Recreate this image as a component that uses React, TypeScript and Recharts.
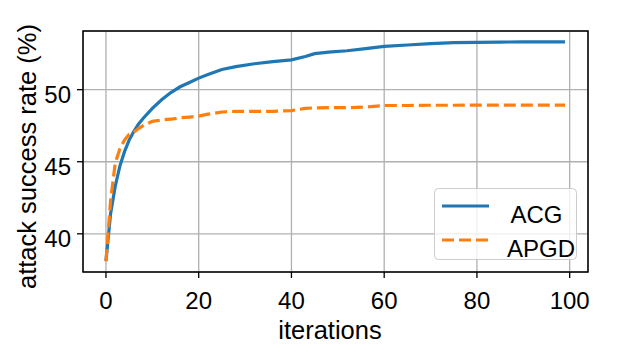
import { useEffect } from 'react';
import {
  LineChart,
  Line,
  XAxis,
  YAxis,
  CartesianGrid,
  Legend,
  ReferenceArea,
} from 'recharts';

// values
const iterations = [0, 1, 2, 3, 4, 5, 6, 7, 8, 10, 12, 14, 16, 18, 20, 22, 25, 28, 32, 36, 40, 43, 45, 48, 52, 56, 60, 65, 70, 75, 80, 85, 90, 95, 99];
const acg = [38.1, 41.4, 43.3, 44.7, 45.7, 46.5, 47.1, 47.6, 48.0, 48.7, 49.3, 49.8, 50.2, 50.5, 50.8, 51.05, 51.4, 51.6, 51.8, 51.95, 52.07, 52.3, 52.5, 52.6, 52.7, 52.85, 53.0, 53.1, 53.2, 53.26, 53.28, 53.3, 53.32, 53.32, 53.32];
const apgd = [38.1, 42.3, 44.9, 45.9, 46.5, 46.9, 47.05, 47.3, 47.5, 47.8, 47.9, 47.95, 48.05, 48.1, 48.16, 48.3, 48.45, 48.5, 48.5, 48.5, 48.55, 48.7, 48.74, 48.75, 48.75, 48.8, 48.9, 48.9, 48.92, 48.92, 48.93, 48.93, 48.93, 48.93, 48.93];
const xTicks = [0, 20, 40, 60, 80, 100];
const yTicks = [40, 45, 50];

const data = iterations.map((it, i) => ({ it, acg: acg[i], apgd: apgd[i] }));

const X_DOMAIN = [-4.95, 103.95];
const Y_DOMAIN = [37.35, 54.07];
const FONT = '"Liberation Sans", Arial, sans-serif';

const seriesStyle: Record<string, { color: string; dash?: string; textX: number; y: number }> = {
  ACG: { color: '#1f77b4', textX: 76.5, y: 18 },
  APGD: { color: '#ff7f0e', dash: '12 5', textX: 73, y: 52 },
};

function LegendBox(props: any) {
  const payload = props.payload || [];
  return (
    <svg width={143} height={72} style={{ display: 'block' }}>
      <rect x={0.5} y={0.5} width={142} height={71} rx={4} fill="#fff" fillOpacity={0.8} stroke="#cccccc" />
      {payload.map((p: any) => {
        const s = seriesStyle[p.value];
        return (
          <g key={p.value}>
            <line x1={8} x2={55} y1={s.y} y2={s.y} stroke={s.color} strokeWidth={3.2} strokeDasharray={s.dash} />
            <text x={s.textX} y={s.y + 16.5} fontSize={24} fontFamily={FONT} fill="#000">
              {p.value}
            </text>
          </g>
        );
      })}
    </svg>
  );
}

export default function App() {
  useEffect(() => {
    document.body.style.margin = '0';
  }, []);

  return (
    <div style={{ position: 'absolute', left: 0, top: 0, background: '#fff' }}>
      <LineChart
        width={623}
        height={362}
        data={data}
        margin={{ top: 31, right: 35, left: 0, bottom: 0 }}
      >
        <CartesianGrid stroke="#b0b0b0" strokeWidth={1.3} />
        <XAxis
          dataKey="it"
          type="number"
          domain={X_DOMAIN}
          ticks={xTicks}
          height={90}
          axisLine={false}
          tickSize={6}
          tickMargin={14}
          tickLine={{ stroke: '#000', strokeWidth: 1.3 }}
          tick={{ fill: '#000', fontSize: 24, fontFamily: FONT }}
          label={{
            content: () => (
              <text x={330} y={339} textAnchor="middle" fontSize={25.5} fontFamily={FONT} fill="#000">
                iterations
              </text>
            ),
          }}
        />
        <YAxis
          type="number"
          domain={Y_DOMAIN}
          ticks={yTicks}
          width={83}
          axisLine={false}
          tickSize={6}
          tickMargin={6}
          tickLine={{ stroke: '#000', strokeWidth: 1.3 }}
          tick={{ fill: '#000', fontSize: 24, fontFamily: FONT, dy: 5 }}
          label={{
            content: () => (
              <text
                x={36}
                y={156.5}
                transform="rotate(-90 36 156.5)"
                textAnchor="middle"
                fontSize={25.5}
                fontFamily={FONT}
                fill="#000"
              >
                attack success rate (%)
              </text>
            ),
          }}
        />
        <Line
          dataKey="acg"
          name="ACG"
          stroke="#1f77b4"
          strokeWidth={3.2}
          dot={false}
          isAnimationActive={false}
        />
        <Line
          dataKey="apgd"
          name="APGD"
          stroke="#ff7f0e"
          strokeWidth={3.2}
          strokeDasharray="12 5"
          dot={false}
          isAnimationActive={false}
        />
        <ReferenceArea
          x1={X_DOMAIN[0]}
          x2={X_DOMAIN[1]}
          y1={Y_DOMAIN[0]}
          y2={Y_DOMAIN[1]}
          fill="none"
          stroke="#000"
          strokeWidth={1.5}
          ifOverflow="visible"
        />
        <Legend
          layout="vertical"
          align="center"
          verticalAlign="middle"
          content={LegendBox}
          wrapperStyle={{ left: 434, top: 188, width: 143, height: 72 }}
        />
      </LineChart>
    </div>
  );
}
